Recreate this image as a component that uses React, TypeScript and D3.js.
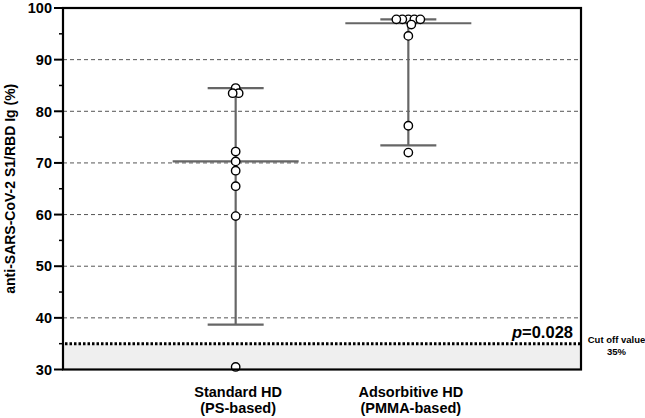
import React from "react";
import * as d3 from "d3";

const categories = ["Standard HD", "Adsorbitive HD"];
const categorySubLabels = ["(PS-based)", "(PMMA-based)"];
const standardValues = [84.5, 83.5, 83.5, 72.2, 70.3, 68.5, 65.5, 59.7, 30.5];
const adsorbitiveValues = [97.8, 97.8, 97.8, 97.8, 97.8, 96.8, 94.6, 77.2, 72.0];
const seriesValues = [standardValues, adsorbitiveValues];
const medians = [70.3, 97.05];
const upperCaps = [84.5, 97.8];
const lowerCaps = [38.7, 73.4];
const cutoffValue = 35;
const yMajorTicks = [30, 40, 50, 60, 70, 80, 90, 100];
const yMinorTicks = [35, 45, 55, 65, 75, 85, 95];
const gridTicks = [40, 50, 60, 70, 80, 90];
const pValueText = "=0.028";
const cutoffLabel = ["Cut off value", "35%"];
const yTitle = "anti-SARS-CoV-2 S1/RBD Ig (%)";

const W = 645;
const H = 418;
const left = 63;
const right = 581;
const top = 8;
const bottom = 369.5;

function swarm(values: number[], yPos: (v: number) => number, D: number) {
  const placed: { x: number; y: number }[] = [];
  return values.map((v) => {
    const y = yPos(v);
    let dx = 0;
    for (let k = 0; k < 200; k++) {
      const cand = (k % 2 === 1 ? 1 : -1) * Math.ceil(k / 2) * 0.5;
      const ok = placed.every((p) => Math.hypot(p.x - cand, p.y - y) >= D - 1e-6);
      if (ok) {
        dx = cand;
        break;
      }
    }
    placed.push({ x: dx, y });
    return dx;
  });
}

export default function App() {
  const y = d3.scaleLinear().domain([30, 100]).range([bottom, top]);
  const x = d3.scalePoint<string>().domain(categories).range([left, right]).padding(1);
  const font = "'Liberation Sans', Arial, Helvetica, sans-serif";
  const capHalf = 28;
  const medHalf = 63;
  const whisker = "#666";

  return (
    <svg
      width={W}
      height={H}
      style={{ position: "absolute", left: 0, top: 0, background: "#fff" }}
      fontFamily={font}
    >
      <rect x={0} y={0} width={W} height={H} fill="#fff" />
      <rect x={left} y={y(cutoffValue)} width={right - left} height={y(30) - y(cutoffValue)} fill="#efefef" />
      {gridTicks.map((t) => (
        <line key={t} x1={left} x2={right} y1={y(t)} y2={y(t)} stroke="#555" strokeWidth={1} strokeDasharray="4 3" />
      ))}
      <line
        x1={left + 2}
        x2={right}
        y1={y(cutoffValue)}
        y2={y(cutoffValue)}
        stroke="#000"
        strokeWidth={3}
        strokeDasharray="2.5 2"
      />
      {categories.map((c, i) => {
        const cx = x(c)!;
        return (
          <g key={c} stroke={whisker} strokeWidth={2.2}>
            <line x1={cx} x2={cx} y1={y(lowerCaps[i])} y2={y(upperCaps[i])} />
            <line x1={cx - capHalf} x2={cx + capHalf} y1={y(lowerCaps[i])} y2={y(lowerCaps[i])} />
            <line x1={cx - capHalf} x2={cx + capHalf} y1={y(upperCaps[i])} y2={y(upperCaps[i])} />
            <line x1={cx - medHalf} x2={cx + medHalf} y1={y(medians[i])} y2={y(medians[i])} />
          </g>
        );
      })}
      {categories.map((c, i) => {
        const cx = x(c)!;
        const offs = swarm(seriesValues[i], (v) => y(v), 5.8);
        return (
          <g key={c + "p"}>
            {seriesValues[i].map((v, j) => (
              <circle key={j} cx={cx + offs[j]} cy={y(v)} r={4.2} fill="#fff" stroke="#000" strokeWidth={1.4} />
            ))}
          </g>
        );
      })}
      <rect x={left} y={top} width={right - left} height={bottom - top} fill="none" stroke="#000" strokeWidth={2.2} />
      {yMajorTicks.map((t) => (
        <g key={"M" + t}>
          <line x1={left - 9} x2={left} y1={y(t)} y2={y(t)} stroke="#000" strokeWidth={2} />
          <text x={left - 11} y={y(t)} dy="0.36em" textAnchor="end" fontSize={14.5} fontWeight="bold" fill="#000">
            {t}
          </text>
        </g>
      ))}
      {yMinorTicks.map((t) => (
        <line key={"m" + t} x1={left - 4} x2={left} y1={y(t)} y2={y(t)} stroke="#000" strokeWidth={1.5} />
      ))}
      <text
        transform={`translate(15,${(top + bottom) / 2}) rotate(-90)`}
        textAnchor="middle"
        fontSize={14}
        fontWeight="bold"
        fill="#000"
      >
        {yTitle}
      </text>
      {categories.map((c, i) => (
        <g key={c + "l"}>
          <text x={x(c)! + 2.5} y={397} textAnchor="middle" fontSize={14.5} fontWeight="bold" fill="#000">
            {c}
          </text>
          <text x={x(c)! + 2.5} y={413} textAnchor="middle" fontSize={14.5} fontWeight="bold" fill="#000">
            {categorySubLabels[i]}
          </text>
        </g>
      ))}
      <text x={573} y={338} textAnchor="end" fontSize={16.5} fontWeight="bold" fill="#000">
        <tspan fontStyle="italic">p</tspan>
        {pValueText}
      </text>
      <text x={616.5} y={342.5} textAnchor="middle" fontSize={9.5} fontWeight="bold" fill="#000">
        {cutoffLabel[0]}
      </text>
      <text x={616.5} y={354.5} textAnchor="middle" fontSize={9.5} fontWeight="bold" fill="#000">
        {cutoffLabel[1]}
      </text>
    </svg>
  );
}
